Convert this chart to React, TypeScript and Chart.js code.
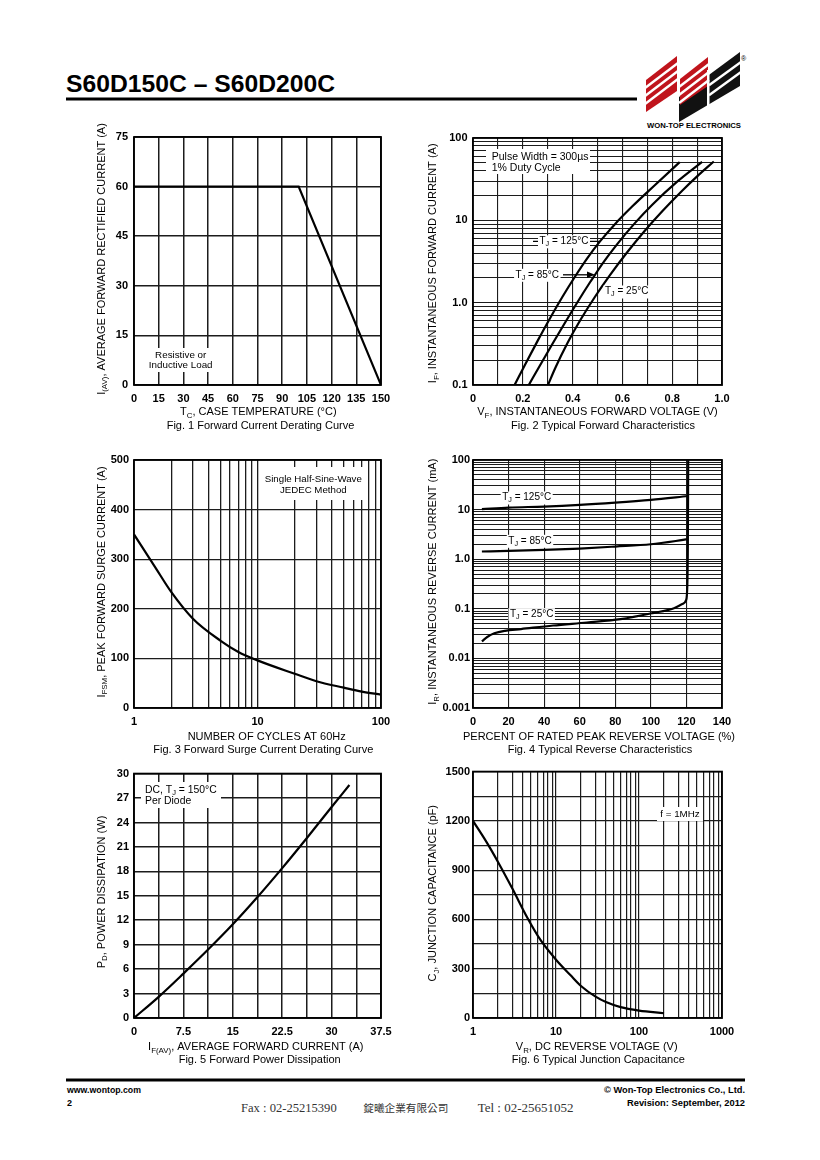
import React, { useEffect, useRef } from "react";
import { Chart, registerables } from "chart.js";

Chart.register(...registerables);

const FONT = "'Liberation Sans', Arial, Helvetica, sans-serif";

// ---------------- Fig. 1 Forward Current Derating Curve
const fig1CaseTemp = [0, 100, 150];
const fig1Current = [60, 60, 0];
const fig1XTickValues = [0, 15, 30, 45, 60, 75, 90, 105, 120, 135, 150];
const fig1XTickLabels = ["0", "15", "30", "45", "60", "75", "90", "105", "120", "135", "150"];
const fig1YTickValues = [0, 15, 30, 45, 60, 75];
const fig1YTickLabels = ["0", "15", "30", "45", "60", "75"];

// ---------------- Fig. 2 Typical Forward Characteristics
const fig2Volt125 = [0.167, 0.21, 0.26, 0.31, 0.36, 0.41, 0.46, 0.51, 0.57, 0.64, 0.73, 0.83];
const fig2Amp125 = [0.1, 0.179, 0.346, 0.652, 1.19, 2.08, 3.5, 5.55, 8.99, 14.8, 26.7, 50.9];
const fig2Volt85 = [0.224, 0.27, 0.32, 0.37, 0.42, 0.47, 0.49, 0.52, 0.58, 0.65, 0.72, 0.82, 0.92];
const fig2Amp85 = [0.1, 0.175, 0.319, 0.574, 1.02, 1.77, 2.18, 2.98, 5.18, 9.25, 15.5, 29.5, 51.3];
const fig2Volt25 = [0.301, 0.33, 0.38, 0.43, 0.49, 0.55, 0.62, 0.69, 0.76, 0.84, 0.9, 0.967];
const fig2Amp25 = [0.1, 0.16, 0.326, 0.607, 1.18, 2.16, 4.12, 7.48, 12.9, 22.9, 34.2, 51.9];
const fig2XGrid = [0, 0.1, 0.2, 0.3, 0.4, 0.5, 0.6, 0.7, 0.8, 0.9, 1.0];
const fig2XTickValues = [0, 0.2, 0.4, 0.6, 0.8, 1.0];
const fig2XTickLabels = ["0", "0.2", "0.4", "0.6", "0.8", "1.0"];
const fig2YTickValues = [0.1, 1, 10, 100];
const fig2YTickLabels = ["0.1", "1.0", "10", "100"];

// ---------------- Fig. 3 Forward Surge Current Derating Curve
const fig3Cycles = [1, 1.5, 2, 3, 5, 7, 10, 20, 30, 50, 70, 100];
const fig3Surge = [350, 282, 234, 180, 136, 113, 96, 69, 54, 41, 33, 27];
const fig3XTickValues = [1, 10, 100];
const fig3XTickLabels = ["1", "10", "100"];
const fig3YTickValues = [0, 100, 200, 300, 400, 500];
const fig3YTickLabels = ["0", "100", "200", "300", "400", "500"];

// ---------------- Fig. 4 Typical Reverse Characteristics
const fig4Pct125 = [5, 20, 40, 60, 80, 100, 121];
const fig4Ir125 = [10.2, 11, 11.5, 12.4, 13.8, 15.7, 18.8];
const fig4Pct85 = [5, 20, 40, 60, 80, 100, 121];
const fig4Ir85 = [1.43, 1.47, 1.54, 1.64, 1.8, 2.0, 2.53];
const fig4Pct25 = [5, 8, 12, 18, 27, 45, 64, 83, 101, 113, 118, 119.8, 120.5, 120.8, 121];
const fig4Ir25 = [0.022, 0.027, 0.032, 0.036, 0.039, 0.046, 0.053, 0.062, 0.082, 0.103, 0.126, 0.15, 0.3, 2, 100];
const fig4XTickValues = [0, 20, 40, 60, 80, 100, 120, 140];
const fig4XTickLabels = ["0", "20", "40", "60", "80", "100", "120", "140"];
const fig4YTickValues = [0.001, 0.01, 0.1, 1, 10, 100];
const fig4YTickLabels = ["0.001", "0.01", "0.1", "1.0", "10", "100"];

// ---------------- Fig. 5 Forward Power Dissipation
const fig5Current = [0, 3.75, 7.5, 11.25, 15, 18.75, 22.5, 26.25, 30, 32.7];
const fig5Power = [0, 2.6, 5.45, 8.4, 11.5, 14.85, 18.4, 22.1, 25.9, 28.6];
const fig5XGrid = [0, 3.75, 7.5, 11.25, 15, 18.75, 22.5, 26.25, 30, 33.75, 37.5];
const fig5XTickValues = [0, 7.5, 15, 22.5, 30, 37.5];
const fig5XTickLabels = ["0", "7.5", "15", "22.5", "30", "37.5"];
const fig5YTickValues = [0, 3, 6, 9, 12, 15, 18, 21, 24, 27, 30];
const fig5YTickLabels = ["0", "3", "6", "9", "12", "15", "18", "21", "24", "27", "30"];

// ---------------- Fig. 6 Typical Junction Capacitance
const fig6Volt = [1, 1.5, 2, 3, 4.5, 6.5, 10, 15, 20, 30, 40, 60, 100, 200];
const fig6Cap = [1200, 1060, 950, 785, 612, 475, 355, 260, 195, 130, 97, 66, 45, 29];
const fig6XTickValues = [1, 10, 100, 1000];
const fig6XTickLabels = ["1", "10", "100", "1000"];
const fig6YGrid = [0, 150, 300, 450, 600, 750, 900, 1050, 1200, 1350, 1500];
const fig6YTickValues = [0, 300, 600, 900, 1200, 1500];
const fig6YTickLabels = ["0", "300", "600", "900", "1200", "1500"];

// ---------------- helpers
function logGrid(lo: number, hi: number): number[] {
  const out: number[] = [];
  for (let e = Math.round(Math.log10(lo)); e < Math.round(Math.log10(hi)); e++) {
    for (let m = 1; m <= 9; m++) out.push(parseFloat((m * Math.pow(10, e)).toPrecision(6)));
  }
  out.push(hi);
  return out;
}

type Seg = [string, number?];
interface Txt {
  x: number; y: number; segs: Seg[]; size?: number; bold?: boolean;
  align?: "left" | "center" | "right"; rot?: boolean; bg?: boolean;
}
interface Leader { x1: number; tip: [number, number]; arrow?: boolean; }
interface AxisSpec {
  type: "linear" | "logarithmic"; min: number; max: number;
  grid: number[]; values: number[]; labels: string[];
}
interface Series { xs: number[]; ys: number[]; smooth: boolean; }
interface Fig {
  canvas: [number, number, number, number];
  plot: [number, number, number, number];
  x: AxisSpec; y: AxisSpec; series: Series[];
  texts: Txt[]; boxes: [number, number, number, number][]; leaders: Leader[];
  gridWidth: number; yPad: number;
}

const fontStr = (size: number, bold?: boolean) => `${bold ? "bold " : ""}${size}px ${FONT}`;

function labelFor(a: AxisSpec, v: number): string {
  for (let i = 0; i < a.values.length; i++) {
    if (Math.abs(a.values[i] - v) <= 1e-9 + 1e-6 * Math.abs(v)) return a.labels[i];
  }
  return "";
}

function t(x: number, y: number, segs: Seg[], o: Partial<Txt> = {}): Txt {
  return { x, y, segs, ...o };
}

const TJ = (deg: string): Seg[] => [["T"], ["J", 1], [` = ${deg}°C`]];

const FIGS: Fig[] = [
  {
    canvas: [85, 120, 320, 315],
    plot: [134, 137, 381, 385],
    x: { type: "linear", min: 0, max: 150, grid: fig1XTickValues, values: fig1XTickValues, labels: fig1XTickLabels },
    y: { type: "linear", min: 0, max: 75, grid: fig1YTickValues, values: fig1YTickValues, labels: fig1YTickLabels },
    series: [{ xs: fig1CaseTemp, ys: fig1Current, smooth: false }],
    texts: [
      t(101.7, 259, [["I"], ["(AV)", 1], [", AVERAGE FORWARD RECTIFIED CURRENT (A)"]], { rot: true }),
      t(258.3, 412.3, [["T"], ["C", 1], [", CASE TEMPERATURE (°C)"]]),
      t(260.5, 425.7, [["Fig. 1 Forward Current Derating Curve"]]),
      t(180.7, 355.3, [["Resistive or"]], { size: 9.8 }),
      t(180.7, 365.7, [["Inductive Load"]], { size: 9.8 }),
    ],
    boxes: [[148, 348, 215, 372]],
    leaders: [],
    gridWidth: 1.5,
    yPad: 6,
  },
  {
    canvas: [420, 120, 330, 315],
    plot: [473, 138, 722, 385],
    x: { type: "linear", min: 0, max: 1, grid: fig2XGrid, values: fig2XTickValues, labels: fig2XTickLabels },
    y: { type: "logarithmic", min: 0.1, max: 100, grid: logGrid(0.1, 100), values: fig2YTickValues, labels: fig2YTickLabels },
    series: [
      { xs: fig2Volt125, ys: fig2Amp125, smooth: true },
      { xs: fig2Volt85, ys: fig2Amp85, smooth: true },
      { xs: fig2Volt25, ys: fig2Amp25, smooth: true },
    ],
    texts: [
      t(433.3, 263.3, [["I"], ["F", 1], [", INSTANTANEOUS FORWARD CURRENT (A)"]], { rot: true }),
      t(597.5, 412.3, [["V"], ["F", 1], [", INSTANTANEOUS FORWARD VOLTAGE (V)"]]),
      t(603, 425.7, [["Fig. 2 Typical Forward Characteristics"]]),
      t(491.7, 156.7, [["Pulse Width = 300µs"]], { size: 10.5, align: "left" }),
      t(491.7, 167.7, [["1% Duty Cycle"]], { size: 10.5, align: "left" }),
      t(564, 241.5, TJ("125"), { size: 10, bg: true }),
      t(537.3, 275, TJ("85"), { size: 10, bg: true }),
      t(626.7, 291.7, TJ("25"), { size: 10, bg: true }),
    ],
    boxes: [[486, 149, 590, 174]],
    leaders: [
      { x1: 533, tip: [0.51, 5.55] },
      { x1: 563, tip: [0.49, 2.18], arrow: true },
    ],
    gridWidth: 1.1,
    yPad: 5.5,
  },
  {
    canvas: [85, 448, 320, 312],
    plot: [134, 460, 381, 708],
    x: { type: "logarithmic", min: 1, max: 100, grid: logGrid(1, 100), values: fig3XTickValues, labels: fig3XTickLabels },
    y: { type: "linear", min: 0, max: 500, grid: fig3YTickValues, values: fig3YTickValues, labels: fig3YTickLabels },
    series: [{ xs: fig3Cycles, ys: fig3Surge, smooth: true }],
    texts: [
      t(101.7, 582, [["I"], ["FSM", 1], [", PEAK FORWARD SURGE CURRENT (A)"]], { rot: true }),
      t(266.7, 737.3, [["NUMBER OF CYCLES AT 60Hz"]]),
      t(263.3, 750, [["Fig. 3 Forward Surge Current Derating Curve"]]),
      t(313.3, 479, [["Single Half-Sine-Wave"]], { size: 9.7 }),
      t(313.3, 490, [["JEDEC Method"]], { size: 9.7 }),
    ],
    boxes: [[262, 467, 367, 500]],
    leaders: [],
    gridWidth: 1.3,
    yPad: 5,
  },
  {
    canvas: [420, 448, 330, 312],
    plot: [473, 460, 722, 708],
    x: { type: "linear", min: 0, max: 140, grid: fig4XTickValues, values: fig4XTickValues, labels: fig4XTickLabels },
    y: { type: "logarithmic", min: 0.001, max: 100, grid: logGrid(0.001, 100), values: fig4YTickValues, labels: fig4YTickLabels },
    series: [
      { xs: fig4Pct125, ys: fig4Ir125, smooth: true },
      { xs: fig4Pct85, ys: fig4Ir85, smooth: true },
      { xs: fig4Pct25, ys: fig4Ir25, smooth: true },
    ],
    texts: [
      t(433.3, 581.7, [["I"], ["R", 1], [", INSTANTANEOUS REVERSE CURRENT (mA)"]], { rot: true }),
      t(599, 737.3, [["PERCENT OF RATED PEAK REVERSE VOLTAGE (%)"]]),
      t(600, 750, [["Fig. 4 Typical Reverse Characteristics"]]),
      t(526.7, 497.7, TJ("125"), { size: 10, bg: true }),
      t(530, 541, TJ("85"), { size: 10, bg: true }),
      t(531.7, 614.3, TJ("25"), { size: 10, bg: true }),
    ],
    boxes: [],
    leaders: [],
    gridWidth: 1.1,
    yPad: 3,
  },
  {
    canvas: [85, 762, 320, 308],
    plot: [134, 771, 381, 1018],
    x: { type: "linear", min: 0, max: 37.5, grid: fig5XGrid, values: fig5XTickValues, labels: fig5XTickLabels },
    y: { type: "linear", min: 0, max: 30, grid: fig5YTickValues, values: fig5YTickValues, labels: fig5YTickLabels },
    series: [{ xs: fig5Current, ys: fig5Power, smooth: true }],
    texts: [
      t(101.7, 892, [["P"], ["D", 1], [", POWER DISSIPATION (W)"]], { rot: true }),
      t(255.8, 1047.3, [["I"], ["F(AV)", 1], [", AVERAGE FORWARD CURRENT (A)"]]),
      t(259.7, 1060, [["Fig. 5 Forward Power Dissipation"]]),
      t(145, 790, [["DC, T"], ["J", 1], [" = 150°C"]], { size: 10.4, align: "left" }),
      t(145, 800.7, [["Per Diode"]], { size: 10.4, align: "left" }),
    ],
    boxes: [[141, 782, 221, 808]],
    leaders: [],
    gridWidth: 1.5,
    yPad: 5,
  },
  {
    canvas: [420, 762, 330, 308],
    plot: [473, 770, 722, 1018],
    x: { type: "logarithmic", min: 1, max: 1000, grid: logGrid(1, 1000), values: fig6XTickValues, labels: fig6XTickLabels },
    y: { type: "linear", min: 0, max: 1500, grid: fig6YGrid, values: fig6YTickValues, labels: fig6YTickLabels },
    series: [{ xs: fig6Volt, ys: fig6Cap, smooth: true }],
    texts: [
      t(433.3, 893.3, [["C"], ["J", 1], [", JUNCTION CAPACITANCE (pF)"]], { rot: true }),
      t(596.7, 1047.3, [["V"], ["R", 1], [", DC REVERSE VOLTAGE (V)"]]),
      t(598.3, 1060, [["Fig. 6 Typical Junction Capacitance"]]),
      t(680, 814, [["f = 1MHz"]], { size: 9.8 }),
    ],
    boxes: [[657, 807, 703, 821]],
    leaders: [],
    gridWidth: 1.2,
    yPad: 3,
  },
];

function segsWidth(ctx: CanvasRenderingContext2D, segs: Seg[], size: number, bold?: boolean) {
  let w = 0;
  for (const [s, sub] of segs) {
    ctx.font = fontStr(sub ? size * 0.72 : size, bold);
    w += ctx.measureText(s).width;
  }
  return w;
}

function drawTxt(ctx: CanvasRenderingContext2D, tx: Txt, ox: number, oy: number) {
  const size = tx.size ?? 11;
  const w = segsWidth(ctx, tx.segs, size, tx.bold);
  ctx.save();
  ctx.translate(tx.x - ox, tx.y - oy);
  if (tx.rot) ctx.rotate(-Math.PI / 2);
  let x = tx.align === "left" ? 0 : tx.align === "right" ? -w : -w / 2;
  if (tx.bg) {
    ctx.fillStyle = "#fff";
    ctx.fillRect(x - 1.5, -size * 0.62, w + 3, size * 1.3);
  }
  ctx.fillStyle = "#000";
  ctx.textBaseline = "middle";
  ctx.textAlign = "left";
  for (const [s, sub] of tx.segs) {
    ctx.font = fontStr(sub ? size * 0.72 : size, tx.bold);
    ctx.fillText(s, x, sub ? size * 0.28 : 0);
    x += ctx.measureText(s).width;
  }
  ctx.restore();
}

function scaleOpts(a: AxisSpec, isX: boolean, gridW: number, pad: number): any {
  return {
    type: a.type,
    min: a.min,
    max: a.max,
    position: isX ? "bottom" : "left",
    afterBuildTicks: (s: any) => {
      s.ticks = a.grid.map((v) => ({ value: v }));
    },
    afterFit: (s: any) => {
      if (isX) s.height = 20;
      else s.width = 30;
    },
    grid: { color: "#1c1c1c", lineWidth: gridW, drawTicks: false },
    border: { display: false },
    ticks: {
      autoSkip: false,
      maxRotation: 0,
      minRotation: 0,
      padding: pad,
      color: "#000",
      font: { family: FONT, size: 11, weight: "bold" },
      callback: (v: any) => labelFor(a, Number(v)),
    },
  };
}

function FigChart({ fig }: { fig: Fig }) {
  const ref = useRef<HTMLCanvasElement>(null);
  const [cl, ct, cw, ch] = fig.canvas;
  useEffect(() => {
    const cv = ref.current;
    if (!cv) return;
    const [pl, pt, pr, pb] = fig.plot;
    const padding = { left: pl - cl - 30, top: pt - ct, right: cl + cw - pr, bottom: ct + ch - pb - 20 };
    const deco = {
      id: "deco",
      beforeDatasetsDraw(chart: any) {
        const ctx: CanvasRenderingContext2D = chart.ctx;
        ctx.save();
        ctx.fillStyle = "#fff";
        for (const b of fig.boxes) ctx.fillRect(b[0] - cl, b[1] - ct, b[2] - b[0], b[3] - b[1]);
        ctx.restore();
      },
      afterDatasetsDraw(chart: any) {
        const ctx: CanvasRenderingContext2D = chart.ctx;
        const xs = chart.scales.x;
        const ys = chart.scales.y;
        ctx.save();
        ctx.strokeStyle = "#000";
        ctx.fillStyle = "#000";
        ctx.lineWidth = 1.3;
        for (const l of fig.leaders) {
          const px = xs.getPixelForValue(l.tip[0]);
          const py = ys.getPixelForValue(l.tip[1]);
          ctx.beginPath();
          ctx.moveTo(l.x1 - cl, py);
          ctx.lineTo(l.arrow ? px - 5 : px, py);
          ctx.stroke();
          if (l.arrow) {
            ctx.beginPath();
            ctx.moveTo(px, py);
            ctx.lineTo(px - 8, py - 3.2);
            ctx.lineTo(px - 8, py + 3.2);
            ctx.closePath();
            ctx.fill();
          }
        }
        ctx.restore();
        for (const tx of fig.texts) drawTxt(ctx, tx, cl, ct);
        const ca = chart.chartArea;
        ctx.save();
        ctx.strokeStyle = "#000";
        ctx.lineWidth = 1.8;
        ctx.strokeRect(ca.left, ca.top, ca.right - ca.left, ca.bottom - ca.top);
        ctx.restore();
      },
    };
    const chart = new Chart(cv, {
      type: "line",
      data: {
        datasets: fig.series.map((s) => ({
          data: s.xs.map((x, i) => ({ x, y: s.ys[i] })),
          borderColor: "#000",
          borderWidth: 2.2,
          pointRadius: 0,
          fill: false,
          tension: s.smooth ? 0.4 : 0,
          cubicInterpolationMode: s.smooth ? "monotone" : "default",
        })) as any,
      },
      options: {
        animation: false,
        responsive: false,
        maintainAspectRatio: false,
        devicePixelRatio: 1,
        events: [],
        layout: { padding },
        plugins: { legend: { display: false }, tooltip: { enabled: false }, title: { display: false } },
        scales: {
          x: scaleOpts(fig.x, true, fig.gridWidth, 7),
          y: scaleOpts(fig.y, false, fig.gridWidth, fig.yPad),
        },
      } as any,
      plugins: [deco as any],
    });
    return () => chart.destroy();
  }, [fig]);
  return (
    <canvas
      ref={ref}
      width={cw}
      height={ch}
      style={{ position: "absolute", left: cl, top: ct, width: cw, height: ch }}
    />
  );
}

function Logo() {
  const stripe = (x1: number, y1: number, x2: number, y2: number, k: number) => (
    <line key={k} x1={x1} y1={y1} x2={x2} y2={y2} stroke="#fff" strokeWidth={2.4} />
  );
  const lines: any[] = [];
  [8, 16, 24].forEach((d, i) => lines.push(stripe(645, 80 + d, 678, 55 + d, i)));
  [8, 16, 24].forEach((d, i) => lines.push(stripe(679, 79 + d, 709, 56 + d, 10 + i)));
  [10, 20].forEach((d, i) => lines.push(stripe(709, 52 + 31 * 0.75 + d, 741, 52 + d, 20 + i)));
  return (
    <g>
      <polygon points="679,97 740,52 740,86 679,122" fill="#111" />
      <polygon points="646,80 677,56 677,91 646,112" fill="#c0141c" />
      <polygon points="680,79 708,57 708,86 680,105" fill="#c0141c" />
      {lines}
      <rect x={707} y={70} width={2.5} height={40} fill="#fff" />
      <text x={647} y={128} fontFamily={FONT} fontWeight="bold" fontSize={8} textLength={94} lengthAdjust="spacingAndGlyphs">
        WON-TOP ELECTRONICS
      </text>
      <text x={741} y={61} fontFamily={FONT} fontSize={7}>®</text>
    </g>
  );
}

export default function App() {
  return (
    <div style={{ position: "absolute", left: 0, top: 0, width: 820, height: 1160, background: "#fff", overflow: "hidden" }}>
      <svg width={820} height={1160} style={{ position: "absolute", left: 0, top: 0 }}>
        <text x={66} y={92} fontFamily={FONT} fontWeight="bold" fontSize={23} textLength={269} lengthAdjust="spacingAndGlyphs">
          S60D150C – S60D200C
        </text>
        <rect x={66} y={97.5} width={571} height={3} fill="#000" />
        <Logo />
        <rect x={66} y={1078.5} width={679} height={3} fill="#000" />
        <text x={67} y={1093} fontFamily={FONT} fontWeight="bold" fontSize={9} textLength={74} lengthAdjust="spacingAndGlyphs">www.wontop.com</text>
        <text x={67} y={1105.5} fontFamily={FONT} fontWeight="bold" fontSize={9}>2</text>
        <text x={745} y={1093} textAnchor="end" fontFamily={FONT} fontWeight="bold" fontSize={9} textLength={141} lengthAdjust="spacingAndGlyphs">© Won-Top Electronics Co., Ltd.</text>
        <text x={745} y={1105.5} textAnchor="end" fontFamily={FONT} fontWeight="bold" fontSize={9} textLength={118} lengthAdjust="spacingAndGlyphs">Revision: September, 2012</text>
        <text x={241} y={1112} fontFamily="'Liberation Serif', serif" fontSize={11.5} fill="#333" textLength={95.7} lengthAdjust="spacingAndGlyphs">Fax : 02-25215390</text>
        <text x={363.3} y={1112} fontFamily="'Noto Sans CJK TC', sans-serif" fontSize={10.5} fill="#333" textLength={85} lengthAdjust="spacingAndGlyphs">錠曦企業有限公司</text>
        <text x={477.7} y={1112} fontFamily="'Liberation Serif', serif" fontSize={11.5} fill="#333" textLength={95.7} lengthAdjust="spacingAndGlyphs">Tel : 02-25651052</text>
      </svg>
      {FIGS.map((f, i) => (
        <FigChart key={i} fig={f} />
      ))}
    </div>
  );
}
